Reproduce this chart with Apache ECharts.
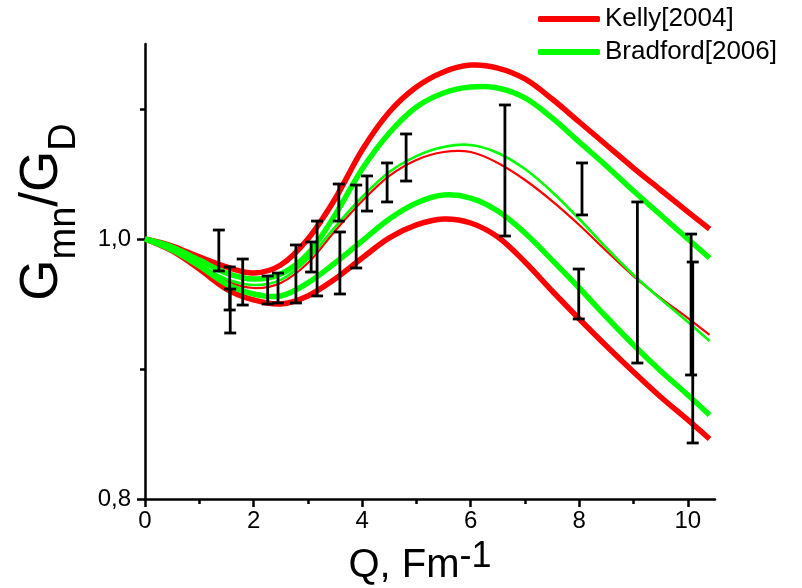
<!DOCTYPE html>
<html><head><meta charset="utf-8">
<script src="https://cdn.jsdelivr.net/npm/echarts@6/dist/echarts.min.js"></script>
<style>html,body{margin:0;padding:0;background:#fff}#c{width:802px;height:588px}</style>
</head><body><div id="c"></div>
<script>
// ---- data ----
const qValues   = [0, 0.5, 1, 1.5, 2, 2.5, 3, 3.5, 4, 4.5, 5, 5.5, 6, 6.5, 7, 7.5, 8, 8.5, 9, 9.5, 10, 10.4];
const kellyHigh = [1.0, 0.9946, 0.9862, 0.9785, 0.9738, 0.9800, 1.0000, 1.0308, 1.0685, 1.0977, 1.1169, 1.1285, 1.1338, 1.1315, 1.1231, 1.1077, 1.0900, 1.0723, 1.0546, 1.0377, 1.0208, 1.0077];
const kellyMid  = [1.0, 0.9923, 0.9800, 0.9677, 0.9623, 0.9662, 0.9815, 1.0062, 1.0292, 1.0485, 1.0608, 1.0669, 1.0669, 1.0585, 1.0454, 1.0292, 1.0108, 0.9908, 0.9715, 0.9546, 0.9392, 0.9262];
const kellyLow  = [1.0, 0.9908, 0.9769, 0.9615, 0.9531, 0.9500, 0.9562, 0.9692, 0.9854, 1.0008, 1.0108, 1.0154, 1.0123, 1.0015, 0.9823, 0.9600, 0.9385, 0.9177, 0.8977, 0.8785, 0.8608, 0.8462];
const bradHigh  = [1.0, 0.9938, 0.9838, 0.9738, 0.9692, 0.9731, 0.9885, 1.0185, 1.0538, 1.0815, 1.1015, 1.1123, 1.1169, 1.1162, 1.1085, 1.0931, 1.0746, 1.0562, 1.0369, 1.0185, 1.0000, 0.9854];
const bradMid   = [1.0, 0.9923, 0.9808, 0.9692, 0.9646, 0.9685, 0.9846, 1.0092, 1.0323, 1.0515, 1.0638, 1.0708, 1.0723, 1.0662, 1.0538, 1.0362, 1.0154, 0.9931, 0.9723, 0.9538, 0.9362, 0.9215];
const bradLow   = [1.0, 0.9915, 0.9792, 0.9654, 0.9577, 0.9562, 0.9662, 0.9815, 0.9985, 1.0154, 1.0277, 1.0338, 1.0315, 1.0215, 1.0046, 0.9838, 0.9623, 0.9400, 0.9185, 0.8985, 0.8800, 0.8646];

const errQ    = [1.36, 1.56, 1.57, 1.80, 2.26, 2.45, 2.78, 3.06, 3.17, 3.57, 3.59, 3.89, 4.09, 4.46, 4.81, 6.63, 8.05, 7.99, 9.07, 10.06, 10.09];
const errLow  = [0.9754, 0.9454, 0.9277, 0.9492, 0.9500, 0.9508, 0.9508, 0.9746, 0.9562, 1.0138, 0.9577, 0.9777, 1.0215, 1.0285, 1.0446, 1.0023, 1.0185, 0.9385, 0.9046, 0.8954, 0.8431];
const errHigh = [1.0069, 0.9785, 0.9615, 0.9846, 0.9715, 0.9738, 0.9954, 0.9977, 1.0138, 1.0423, 1.0054, 1.0415, 1.0485, 1.0585, 1.0808, 1.1031, 1.0585, 0.9769, 1.0285, 1.0038, 0.9823];

const xMajorTicks = [0, 2, 4, 6, 8, 10];
const xMinorTicks = [1, 3, 5, 7, 9];
const yMajorTicks = [0.8, 1.0];
const yMinorTicks = [0.9, 1.1];
const legendNames = ['Kelly[2004]', 'Bradford[2006]'];

// ---- chart ----
const FONT = '"Liberation Sans", Arial, sans-serif';
const RED = '#ff0000', GREEN = '#00ff00';
const errData = errQ.map((q, i) => [q, errLow[i], errHigh[i]]);

// smooth curve through the read points, positioned by the chart's own axes
function curveSeries(name, arr, color, width) {
  return { type: 'custom', name: name, xAxisIndex: 0, yAxisIndex: 0, z: 3, silent: true,
    itemStyle: { color: color },
    data: [[qValues[0], arr[0]]],
    renderItem: function (params, api) {
      const pts = qValues.map((q, i) => api.coord([q, arr[i]]));
      return { type: 'polyline', shape: { points: pts, smooth: 0.33 },
        style: { stroke: color, lineWidth: width, fill: null, lineJoin: 'round', lineCap: 'butt' } };
    } };
}

const chart = echarts.init(document.getElementById('c'), null, { renderer: 'canvas' });
const axisLineStyle = { color: '#000', width: 2.5 };
chart.setOption({
  animation: false,
  backgroundColor: '#fff',
  grid: { left: 145, right: 87, top: 44, bottom: 89, containLabel: false },
  legend: {
    orient: 'vertical', left: 538, top: 5, padding: 0, itemWidth: 62, itemHeight: 6, itemGap: 5, icon: 'roundRect',
    textStyle: { fontSize: 26, fontFamily: FONT, color: '#000', lineHeight: 28 },
    data: legendNames
  },
  xAxis: [
    { type: 'value', min: 0, max: 10.5, position: 'bottom',
      axisLine: { show: true, onZero: false, lineStyle: axisLineStyle },
      axisTick: { show: true, customValues: xMajorTicks, length: 8, lineStyle: { color: '#000', width: 2.5 } },
      axisLabel: { customValues: xMajorTicks, fontSize: 24, fontFamily: FONT, color: '#000', margin: 10 },
      splitLine: { show: false } },
    { type: 'value', min: 0, max: 10.5, position: 'bottom',
      axisLine: { show: false, onZero: false },
      axisTick: { show: true, customValues: xMinorTicks, length: 5, lineStyle: { color: '#000', width: 2.5 } },
      axisLabel: { show: false }, splitLine: { show: false } }
  ],
  yAxis: [
    { type: 'value', min: 0.8, max: 1.15, position: 'left',
      axisLine: { show: true, onZero: false, lineStyle: axisLineStyle },
      axisTick: { show: true, customValues: yMajorTicks, length: 8, lineStyle: { color: '#000', width: 2.5 } },
      axisLabel: { customValues: yMajorTicks, fontSize: 24, fontFamily: FONT, color: '#000', margin: 14,
        formatter: v => v.toFixed(1).replace('.', ',') },
      splitLine: { show: false } },
    { type: 'value', min: 0.8, max: 1.15, position: 'left',
      axisLine: { show: false, onZero: false },
      axisTick: { show: true, customValues: yMinorTicks, length: 5, lineStyle: { color: '#000', width: 2.5 } },
      axisLabel: { show: false }, splitLine: { show: false } }
  ],
  graphic: [
    { type: 'text', x: 42, y: 212, rotation: Math.PI / 2,
      style: { text: '{g|G}{s|mn}{g|/G}{s|D}', align: 'center', verticalAlign: 'middle', fill: '#000',
        rich: { g: { fontSize: 53, fontFamily: FONT, fill: '#000' },
                s: { fontSize: 38, fontFamily: FONT, fill: '#000', padding: [46, 0, 0, 0] } } } },
    { type: 'text', x: 420, y: 566,
      style: { text: '{a|Q, Fm}{b|-1}', align: 'center', verticalAlign: 'middle', fill: '#000',
        rich: { a: { fontSize: 40, fontFamily: FONT, fill: '#000' },
                b: { fontSize: 36, fontFamily: FONT, fill: '#000', padding: [0, 0, 18, 0] } } } }
  ],
  series: [
    curveSeries(legendNames[0], kellyHigh, RED, 5.5),
    curveSeries(legendNames[0], kellyLow, RED, 5.5),
    curveSeries(legendNames[0], kellyMid, RED, 2.2),
    curveSeries(legendNames[1], bradHigh, GREEN, 5.5),
    curveSeries(legendNames[1], bradLow, GREEN, 5.5),
    curveSeries(legendNames[1], bradMid, GREEN, 2.6),
    { type: 'custom', name: 'data', xAxisIndex: 0, yAxisIndex: 0, z: 10, silent: true,
      data: errData,
      renderItem: function (params, api) {
        const x = api.value(0), lo = api.value(1), hi = api.value(2);
        const a = api.coord([x, hi]), b = api.coord([x, lo]);
        const w = 6, st = { stroke: '#000', lineWidth: 2.8 };
        return { type: 'group', children: [
          { type: 'line', shape: { x1: a[0], y1: a[1], x2: b[0], y2: b[1] }, style: st },
          { type: 'line', shape: { x1: a[0] - w, y1: a[1], x2: a[0] + w, y2: a[1] }, style: st },
          { type: 'line', shape: { x1: b[0] - w, y1: b[1], x2: b[0] + w, y2: b[1] }, style: st }
        ] };
      } }
  ]
});
</script></body></html>
